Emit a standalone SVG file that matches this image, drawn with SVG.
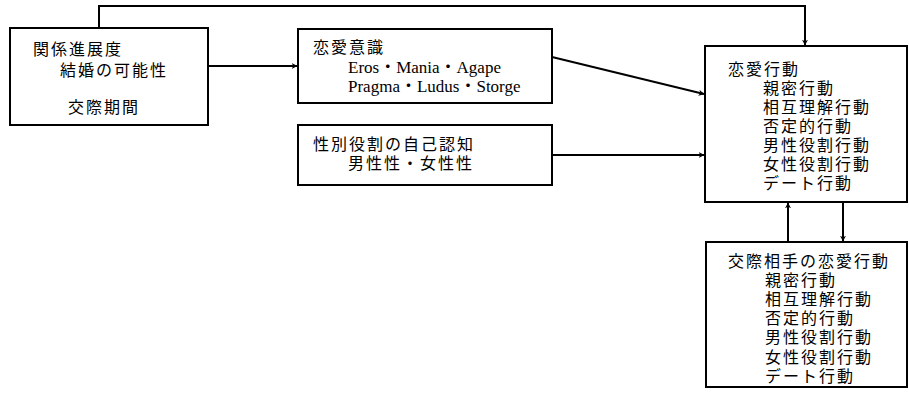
<svg xmlns="http://www.w3.org/2000/svg" width="909" height="397" viewBox="0 0 909 397">
<defs>
<style>
.box{fill:#fff;stroke:#000;stroke-width:2}
.t{font-family:"Liberation Sans","Noto Sans CJK JP","Noto Sans CJK SC",sans-serif;font-size:16px;letter-spacing:2px;fill:#000}
.s{font-family:"Liberation Serif","Noto Sans CJK JP",serif;font-size:17px;letter-spacing:0;fill:#000}
.c{fill:none;stroke:#000;stroke-width:2}
</style>
<marker id="ah" viewBox="0 0 10 10" refX="9" refY="5" markerWidth="6" markerHeight="6" orient="auto-start-reverse" markerUnits="userSpaceOnUse">
<path d="M0,0 L10,5 L0,10 L3,5 Z" fill="#000"/>
</marker>
</defs>
<rect width="909" height="397" fill="#fff"/>
<g id="connectors">
<path class="c" d="M99,28 V6 H805 V45" marker-end="url(#ah)"/>
<path class="c" d="M208,66 H297" marker-end="url(#ah)"/>
<path class="c" d="M552,57 L704,94" marker-end="url(#ah)"/>
<path class="c" d="M552,155 H704" marker-end="url(#ah)"/>
<path class="c" d="M788,242 V203" marker-end="url(#ah)"/>
<path class="c" d="M843,202 V241" marker-end="url(#ah)"/>
</g>
<g id="n1">
<rect class="box" x="10" y="28" width="198" height="97"/>
<text class="t"><tspan x="33" y="55">関係進展度</tspan><tspan x="60" y="76">結婚の可能性</tspan><tspan x="68" y="113">交際期間</tspan></text>
</g>
<g id="n2">
<rect class="box" x="298" y="29" width="254" height="74"/>
<text class="t"><tspan x="313" y="53">恋愛意識</tspan><tspan class="s" x="348" y="73">Eros・Mania・Agape</tspan><tspan class="s" x="348" y="92">Pragma・Ludus・Storge</tspan></text>
</g>
<g id="n3">
<rect class="box" x="298" y="125" width="254" height="60"/>
<text class="t"><tspan x="313" y="150">性別役割の自己認知</tspan><tspan x="348" y="169">男性性・女性性</tspan></text>
</g>
<g id="n4">
<rect class="box" x="705" y="46" width="202" height="156"/>
<text class="t"><tspan x="728" y="75">恋愛行動</tspan><tspan x="763" y="94">親密行動</tspan><tspan x="763" y="113">相互理解行動</tspan><tspan x="763" y="132">否定的行動</tspan><tspan x="763" y="151">男性役割行動</tspan><tspan x="763" y="170">女性役割行動</tspan><tspan x="763" y="189">デート行動</tspan></text>
</g>
<g id="n5">
<rect class="box" x="706" y="242" width="201" height="145"/>
<text class="t"><tspan x="728" y="267">交際相手の恋愛行動</tspan><tspan x="765" y="286">親密行動</tspan><tspan x="765" y="305">相互理解行動</tspan><tspan x="765" y="324">否定的行動</tspan><tspan x="765" y="343">男性役割行動</tspan><tspan x="765" y="363">女性役割行動</tspan><tspan x="765" y="382">デート行動</tspan></text>
</g>
</svg>
